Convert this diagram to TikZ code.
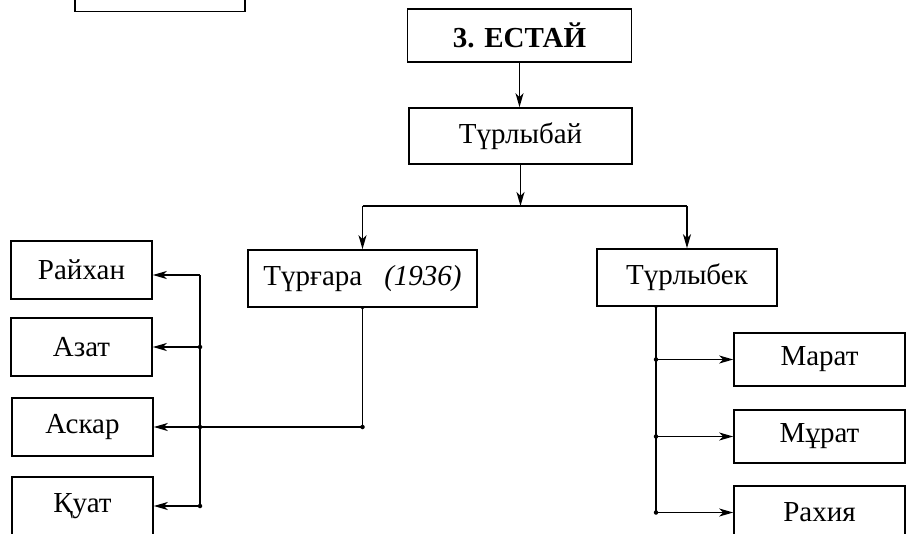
\documentclass[tikz,border=0pt]{standalone}
\usepackage{fontspec}
\setmainfont{Liberation Serif}
\usetikzlibrary{arrows.meta}

\begin{document}
\begin{tikzpicture}[x=1pt, y=-1pt,
      % --- styles ---
      every node/.style={font=\fontsize{29}{33}\selectfont},
      person/.style={rectangle, draw=black, line width=1.6pt, inner sep=0pt, align=center},
      kid-left/.style={person, minimum width=141pt, minimum height=58pt},
      kid-right/.style={person, minimum width=171pt, minimum height=53pt},
      link/.style={line width=1.4pt, draw=black},
      arrow/.style={link, -{Stealth[length=14pt, width=8pt, inset=4pt]}},
      junction/.style={circle, fill=black, inner sep=0pt, minimum size=4.5pt}
  ]
    \useasboundingbox (0,0) rectangle (907,533);
    \clip (0,0) rectangle (907,533);
    %
    % 1. Top generations
    \node[person, minimum width=170pt, minimum height=55pt] (prev) at (160,-16) {};
    \node[person, minimum width=224pt, minimum height=53pt, font=\fontsize{29}{33}\selectfont\bfseries] (estai) at (519.5,35.5) {3. ЕСТАЙ};
    \node[person, minimum width=223pt, minimum height=56pt] (turlybai) at (520.5,136) {Түрлыбай};
    %
    % 2. Sons
    \node[person, minimum width=229pt, minimum height=57pt] (turgara) at (362.5,278.5) {Түрғара\hspace{22pt}\textit{(1936)}};
    \node[person, minimum width=180pt, minimum height=57pt] (turlybek) at (687,277.5) {Түрлыбек};
    %
    % 3. Grandchildren (left)
    \node[kid-left] (raihan) at (81.5,270) {Райхан};
    \node[kid-left] (azat) at (81.5,347) {Азат};
    \node[kid-left] (askar) at (82.5,427) {Аскар};
    \node[kid-left] (kuat) at (82.5,506) {Қуат};
    %
    % 4. Grandchildren (right)
    \node[kid-right] (marat) at (819.5,359.5) {Марат};
    \node[kid-right] (murat) at (819.5,436.5) {Мұрат};
    \node[kid-right] (rakhiya) at (819.5,512.5) {Рахия};
    %
    % 5. Rails
    \coordinate (split) at (520.5,206);
    \coordinate (lrail) at (200,0);
    \coordinate (rrail) at (656,0);
    %
    % 6. Links down the line
    \draw[arrow] (estai.south) -- (estai.south |- turlybai.north);
    \draw[arrow] (turlybai.south) -- (split);
    \draw[link] (turgara.north |- split) -- (turlybek.north |- split);
    \draw[arrow] (turgara.north |- split) -- (turgara.north);
    \draw[arrow] (turlybek.north |- split) -- (turlybek.north);
    %
    % 7. Link Türgara's children
    \draw[link] (lrail |- raihan.east) ++(0,5) -- (lrail |- kuat.east);
    \draw[arrow] ([yshift=-5pt]raihan.east -| lrail) -- ([yshift=-5pt]raihan.east);
    \foreach \k in {azat, kuat}
      \draw[arrow] (lrail |- \k.east) -- (\k.east);
    \draw[link] (turgara.south) -- (turgara.south |- askar.east);
    \draw[arrow] (turgara.south |- askar.east) -- (askar.east);
    \foreach \k in {azat, askar, kuat}
      \node[junction] at (lrail |- \k.east) {};
    \node[junction] at (turgara.south |- askar.east) {};
    \node[junction, minimum size=3.5pt] at (turgara.south) {};
    %
    % 8. Link Türlybek's children
    \draw[link] (rrail |- turlybek.south) -- (rrail |- rakhiya.west);
    \foreach \k in {marat, murat, rakhiya} {
      \draw[arrow] (rrail |- \k.west) -- (\k.west);
      \node[junction] at (rrail |- \k.west) {};
    }
    \node[junction, minimum size=3.5pt] at (rrail |- turlybek.south) {};
  \end{tikzpicture}
\end{document}
